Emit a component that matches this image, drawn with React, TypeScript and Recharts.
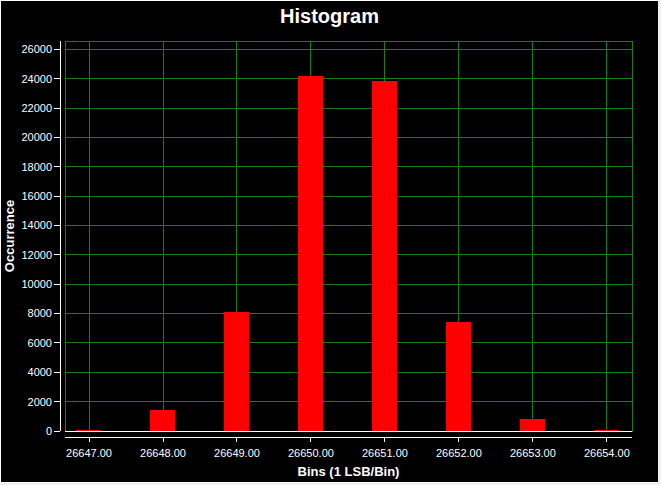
import React from 'react';
import { BarChart, Bar, XAxis, YAxis, CartesianGrid, ReferenceArea } from 'recharts';

const BINS = [26647, 26648, 26649, 26650, 26651, 26652, 26653, 26654];
const COUNTS = [100, 1400, 8090, 24160, 23870, 7400, 830, 90];
const Y_TICKS = [0, 2000, 4000, 6000, 8000, 10000, 12000, 14000, 16000, 18000, 20000, 22000, 24000, 26000];
const X_MIN = 26646.675;
const X_MAX = 26654.34;
const Y_MAX = 26565;

const data = BINS.map((bin, i) => ({ bin, count: COUNTS[i] }));

const FONT = '"Liberation Sans", Arial, sans-serif';
const GRID = '#138013';
const tickStyle = { fill: '#ffffff', fontSize: 11, fontFamily: FONT };

export default function App() {
  return (
    <div style={{ position: 'absolute', left: 0, top: 0, width: 661, height: 485, background: '#f0f0f0' }}>
      <div style={{ position: 'absolute', left: 0, top: 0, width: 658, height: 483, background: '#ffffff' }} />
      <div style={{ position: 'absolute', left: 1, top: 1, width: 657, height: 481, background: '#000000' }}>
        <div
          style={{
            position: 'absolute',
            left: 0,
            top: 5,
            width: 657,
            textAlign: 'center',
            color: '#ffffff',
            fontFamily: FONT,
            fontWeight: 'bold',
            fontSize: 20,
            lineHeight: '20px',
          }}
        >
          Histogram
        </div>
        <div style={{ position: 'absolute', left: 0, top: 0 }}>
          <BarChart width={657} height={481} data={data} margin={{ top: 40, right: 26, left: 0, bottom: 0 }}>
            <CartesianGrid xAxisId="b" yAxisId="b" stroke={GRID} strokeWidth={1} shapeRendering="crispEdges" />
            <XAxis
              xAxisId="a"
              dataKey="bin"
              type="number"
              domain={[X_MIN, X_MAX]}
              ticks={BINS}
              allowDataOverflow
              height={6}
              tick={false}
              tickLine={false}
              axisLine={{ stroke: '#ffffff', strokeWidth: 1, shapeRendering: 'crispEdges' }}
            />
            <XAxis
              xAxisId="b"
              dataKey="bin"
              type="number"
              domain={[X_MIN, X_MAX]}
              ticks={BINS}
              allowDataOverflow
              height={45}
              tick={tickStyle}
              tickFormatter={(v: number) => v.toFixed(2)}
              tickSize={5}
              tickMargin={7}
              tickLine={{ stroke: '#ffffff', shapeRendering: 'crispEdges' }}
              axisLine={{ stroke: '#ffffff', strokeWidth: 1, shapeRendering: 'crispEdges' }}
              label={{
                value: 'Bins (1 LSB/Bin)',
                position: 'insideBottom',
                offset: 6,
                fill: '#ffffff',
                fontSize: 13,
                fontWeight: 'bold',
                fontFamily: FONT,
              }}
            />
            <YAxis
              yAxisId="a"
              type="number"
              domain={[0, Y_MAX]}
              ticks={Y_TICKS}
              allowDataOverflow
              width={5}
              tick={false}
              tickLine={false}
              axisLine={false}
            />
            <YAxis
              yAxisId="b"
              type="number"
              domain={[0, Y_MAX]}
              ticks={Y_TICKS}
              allowDataOverflow
              width={59}
              tick={tickStyle}
              tickSize={6}
              tickMargin={2}
              tickLine={{ stroke: '#ffffff', shapeRendering: 'crispEdges' }}
              axisLine={{ stroke: '#ffffff', strokeWidth: 1, shapeRendering: 'crispEdges' }}
              label={{
                value: 'Occurrence',
                angle: -90,
                position: 'insideLeft',
                offset: 8,
                fill: '#ffffff',
                fontSize: 13,
                fontWeight: 'bold',
                fontFamily: FONT,
                style: { textAnchor: 'middle' },
              }}
            />
            <ReferenceArea
              xAxisId="a"
              yAxisId="a"
              x1={X_MIN}
              x2={X_MAX}
              y1={0}
              y2={Y_MAX}
              fill="none"
              fillOpacity={0}
              stroke={GRID}
              strokeWidth={1}
              shapeRendering="crispEdges"
            />
            <Bar
              xAxisId="a"
              yAxisId="a"
              dataKey="count"
              fill="#ff0000"
              barSize={25}
              shapeRendering="crispEdges"
              isAnimationActive={false}
            />
          </BarChart>
        </div>
      </div>
    </div>
  );
}
